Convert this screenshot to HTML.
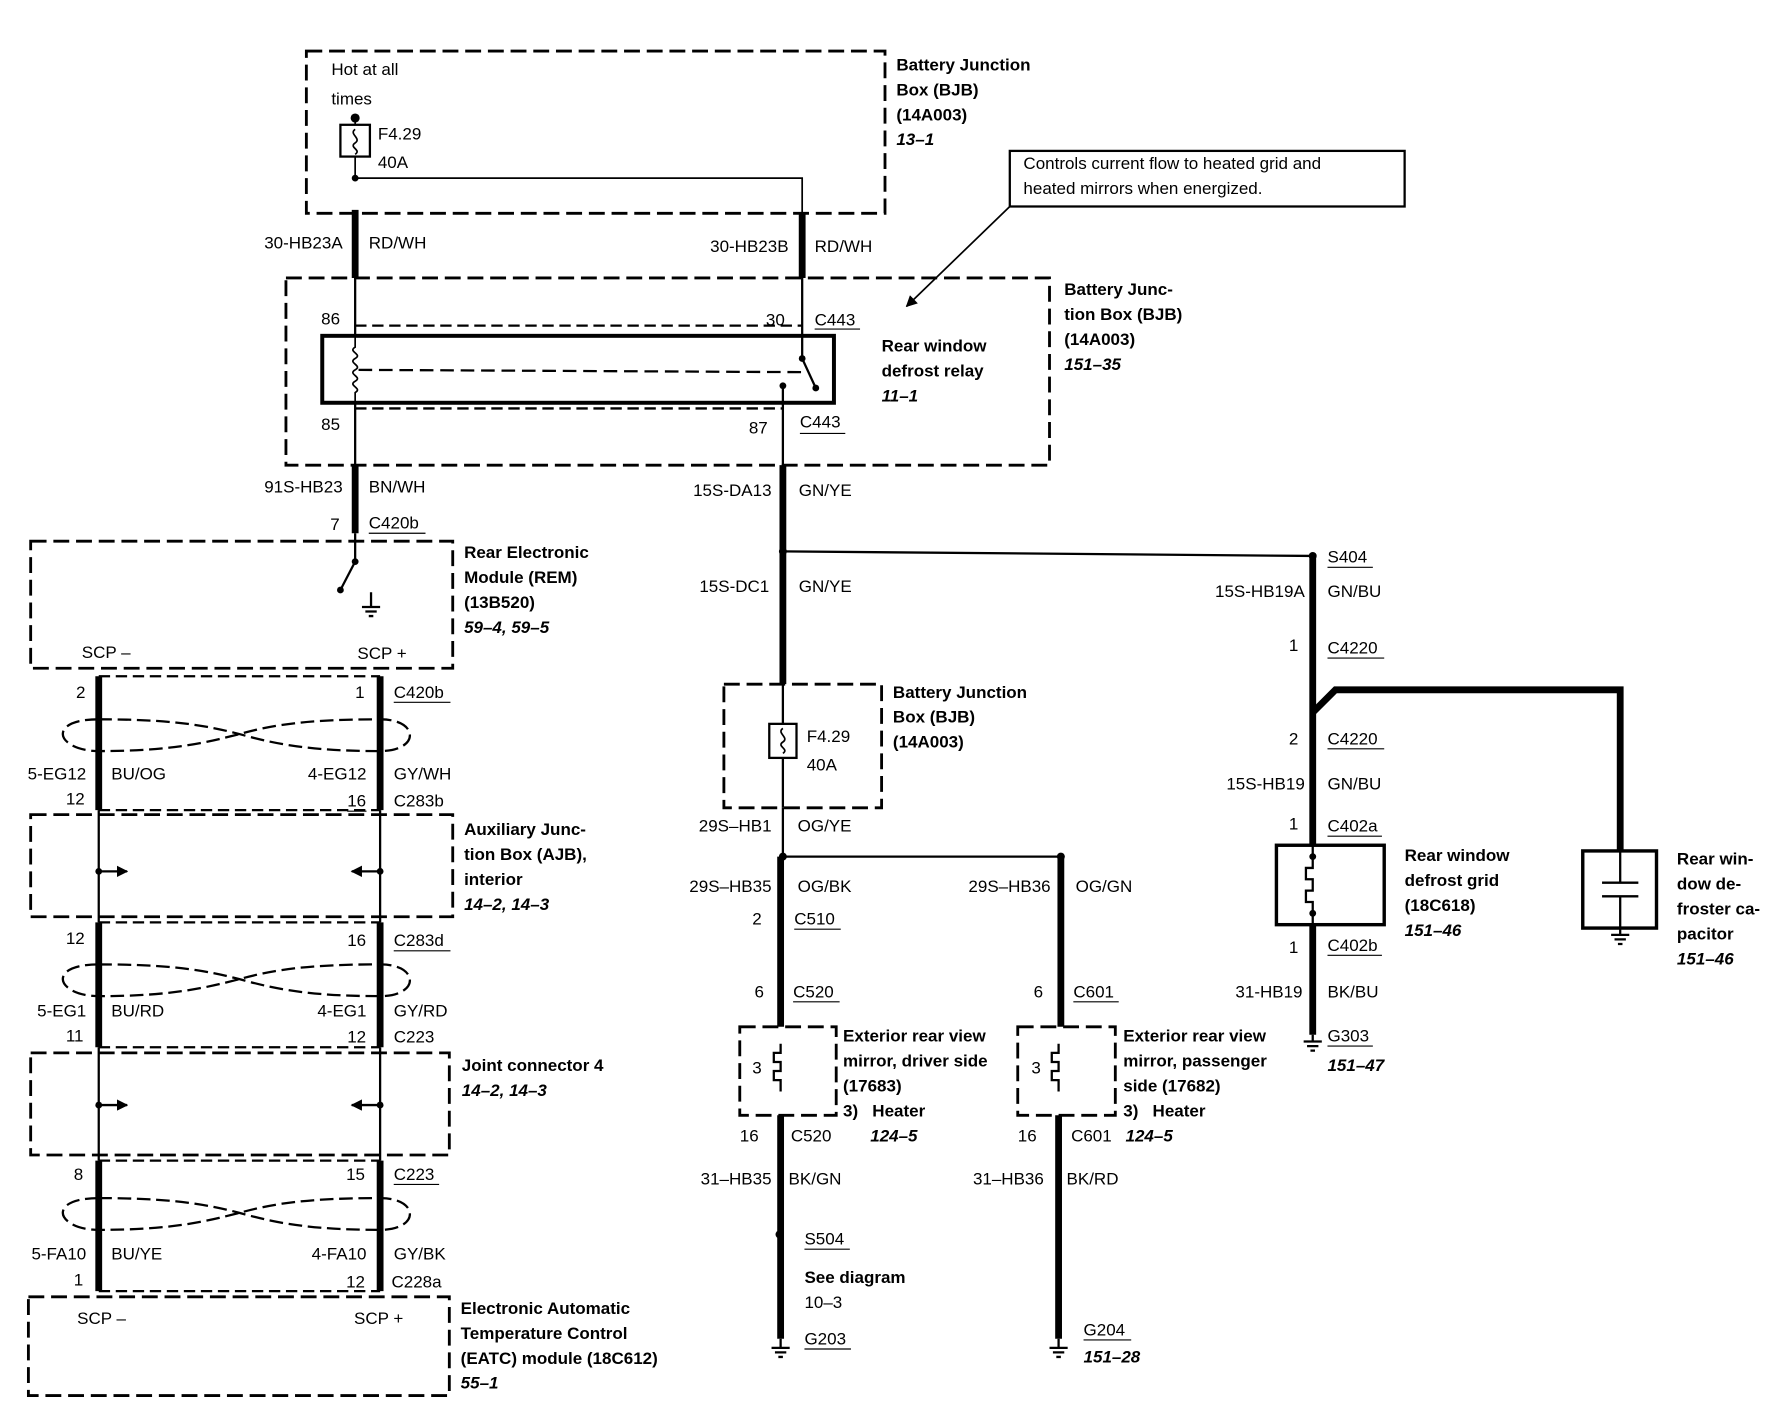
<!DOCTYPE html>
<html><head><meta charset="utf-8"><style>
html,body{margin:0;padding:0;background:#fff;}
svg{display:block;}
text{font-family:"Liberation Sans",sans-serif;font-size:15px;fill:#000;}
.b{font-weight:bold;}
.i{font-weight:bold;font-style:italic;}
.r{text-anchor:end;}
</style></head><body>
<svg width="1770" height="1408" viewBox="0 0 1560 1241" xmlns="http://www.w3.org/2000/svg">
<defs>
<marker id="ah" markerWidth="10" markerHeight="10" refX="9" refY="5" orient="auto" markerUnits="userSpaceOnUse"><path d="M0,0 L10,5 L0,10 z" fill="#000"/></marker>
</defs>
<g fill="none" stroke="#000">
<!-- dashed boxes -->
<g stroke-width="2.5" stroke-dasharray="14,6">
<rect x="270" y="45" width="510" height="143"/>
<rect x="252" y="245" width="673" height="165"/>
<rect x="27" y="477" width="372" height="112"/>
<rect x="638" y="603" width="139" height="109"/>
<rect x="27" y="718" width="372" height="90"/>
<rect x="27" y="928" width="369" height="90"/>
<rect x="25" y="1143" width="371" height="87"/>
<rect x="652" y="905" width="85" height="78"/>
<rect x="897" y="905" width="86" height="78"/>
</g>
<!-- connector dashed shells -->
<g stroke-width="2" stroke-dasharray="10,5">
<line x1="313" y1="287" x2="707" y2="287"/>
<line x1="313" y1="360" x2="690" y2="360"/>
<line x1="87" y1="596" x2="335" y2="596"/>
<line x1="87" y1="714" x2="335" y2="714"/>
<line x1="87" y1="813" x2="335" y2="813"/>
<line x1="87" y1="923" x2="335" y2="923"/>
<line x1="87" y1="1023" x2="335" y2="1023"/>
<line x1="87" y1="1138" x2="335" y2="1138"/>
</g>
<!-- top fuse -->
<rect x="300" y="110" width="26" height="28" stroke-width="2"/>
<path d="M313,104 V110 M313,138 V157 H707 V188" stroke-width="1.5"/>
<path d="M313,114 c-6,4 6,8 0,12 c-6,4 6,6 0,10" stroke-width="1.5"/>
<!-- thick wires -->
<g stroke-width="6">
<line x1="313" y1="185" x2="313" y2="245"/>
<line x1="707" y1="188" x2="707" y2="245"/>
<line x1="313" y1="410" x2="313" y2="470"/>
<line x1="690" y1="410" x2="690" y2="603"/>
<line x1="87" y1="596" x2="87" y2="714"/>
<line x1="335" y1="596" x2="335" y2="714"/>
<line x1="87" y1="813" x2="87" y2="923"/>
<line x1="335" y1="813" x2="335" y2="923"/>
<line x1="87" y1="1023" x2="87" y2="1138"/>
<line x1="335" y1="1023" x2="335" y2="1138"/>
<line x1="688" y1="755" x2="688" y2="905"/>
<line x1="935" y1="755" x2="935" y2="905"/>
<line x1="688" y1="983" x2="688" y2="1180"/>
<line x1="933" y1="983" x2="933" y2="1180"/>
<line x1="1157" y1="490" x2="1157" y2="745"/>
<line x1="1157" y1="815" x2="1157" y2="912"/>
<path d="M1157,628 L1177,608 H1428 V750"/>
</g>
<!-- thin wires -->
<g stroke-width="2">
<line x1="313" y1="245" x2="313" y2="296"/>
<line x1="707" y1="245" x2="707" y2="296"/>
<line x1="313" y1="355" x2="313" y2="410"/>
<line x1="690" y1="340" x2="690" y2="410"/>
<line x1="690" y1="712" x2="690" y2="755"/>
<line x1="690" y1="755" x2="935" y2="755"/>
<line x1="690" y1="486" x2="1157" y2="490"/>
<line x1="87" y1="714" x2="87" y2="813"/>
<line x1="335" y1="714" x2="335" y2="813"/>
<line x1="87" y1="923" x2="87" y2="1023"/>
<line x1="335" y1="923" x2="335" y2="1023"/>
<line x1="690" y1="603" x2="690" y2="638"/>
<line x1="690" y1="668" x2="690" y2="712"/>
<line x1="313" y1="470" x2="313" y2="495"/>
<line x1="313" y1="495" x2="300" y2="520"/>
</g>
<!-- relay -->
<rect x="284" y="296" width="451" height="59" stroke-width="3.5"/>
<path d="M313,296 V306 c-7,4 7,6 0,10 c-7,4 7,6 0,10 c-7,4 7,6 0,10 c-7,4 7,6 0,10 V355" stroke-width="1.5"/>
<line x1="316" y1="326" x2="706" y2="328" stroke-width="2" stroke-dasharray="12,6"/>
<path d="M707,296 V316 L719,342" stroke-width="2"/>
<!-- callout -->
<rect x="890" y="133" width="348" height="49" stroke-width="2"/>
<line x1="890" y1="182" x2="799" y2="270" stroke-width="1.5" marker-end="url(#ah)"/>
<!-- twists -->
<g stroke-width="2" stroke-dasharray="12,5">
<path d="M87,634 C40,634 50,662 87,662 C150,662 180,655 211,647 C240,639 270,634 335,634 C370,634 370,662 335,662 C270,662 240,655 211,647 C180,639 150,634 87,634"/>
<path d="M87,850 C40,850 50,878 87,878 C150,878 180,871 211,863 C240,855 270,850 335,850 C370,850 370,878 335,878 C270,878 240,871 211,863 C180,855 150,850 87,850"/>
<path d="M87,1056 C40,1056 50,1084 87,1084 C150,1084 180,1077 211,1069 C240,1061 270,1056 335,1056 C370,1056 370,1084 335,1084 C270,1084 240,1077 211,1069 C180,1061 150,1056 87,1056"/>
</g>
<!-- AJB & joint arrows -->
<g stroke-width="2">
<line x1="87" y1="768" x2="112" y2="768" marker-end="url(#ah)"/>
<line x1="335" y1="768" x2="310" y2="768" marker-end="url(#ah)"/>
<line x1="87" y1="974" x2="112" y2="974" marker-end="url(#ah)"/>
<line x1="335" y1="974" x2="310" y2="974" marker-end="url(#ah)"/>
</g>
<!-- mid fuse -->
<rect x="678" y="638" width="24" height="30" stroke-width="2"/>
<path d="M690,642 c-6,4 6,8 0,12 c-6,4 6,6 0,10" stroke-width="1.5"/>
<!-- heaters -->
<path d="M688,920 v8 h-6 v8 h6 v8 h-6 v8 h6 v10" stroke-width="2"/>
<path d="M933,920 v8 h-6 v8 h6 v8 h-6 v8 h6 v10" stroke-width="2"/>
<!-- grid -->
<rect x="1125" y="745" width="95" height="70" stroke-width="3"/>
<path d="M1157,745 v20 h-6 v10 h6 v10 h-6 v10 h6 v20" stroke-width="2"/>
<!-- capacitor -->
<rect x="1395" y="750" width="65" height="68" stroke-width="3"/>
<path d="M1428,750 V778 M1412,778 H1444 M1412,790 H1444 M1428,790 V818" stroke-width="2"/>
<!-- grounds -->
<g stroke-width="2">
<path d="M327,522 V535 M319,535 H335 M322,539 H332 M325,543 H329"/>
<path d="M688,1180 V1188 M680,1188 H696 M683,1192 H693 M686,1196 H690"/>
<path d="M933,1180 V1188 M925,1188 H941 M928,1192 H938 M931,1196 H935"/>
<path d="M1157,912 V918 M1149,918 H1165 M1152,922 H1162 M1155,926 H1159"/>
<path d="M1428,818 V824 M1420,824 H1436 M1423,828 H1433 M1426,832 H1430"/>
</g>
<!-- underlines -->
<g stroke-width="1">
<line x1="718" y1="290" x2="758" y2="290"/>
<line x1="705" y1="382" x2="745" y2="382"/>
<line x1="325" y1="470" x2="375" y2="470"/>
<line x1="347" y1="619" x2="397" y2="619"/>
<line x1="347" y1="838" x2="397" y2="838"/>
<line x1="347" y1="1044" x2="387" y2="1044"/>
<line x1="700" y1="819" x2="741" y2="819"/>
<line x1="699" y1="883" x2="740" y2="883"/>
<line x1="946" y1="883" x2="986" y2="883"/>
<line x1="709" y1="1101" x2="749" y2="1101"/>
<line x1="1170" y1="500" x2="1210" y2="500"/>
<line x1="1170" y1="580" x2="1220" y2="580"/>
<line x1="1170" y1="660" x2="1220" y2="660"/>
<line x1="1170" y1="737" x2="1218" y2="737"/>
<line x1="1170" y1="842" x2="1218" y2="842"/>
<line x1="1170" y1="922" x2="1210" y2="922"/>
<line x1="955" y1="1181" x2="997" y2="1181"/>
<line x1="709" y1="1189" x2="750" y2="1189"/>
<line x1="306" y1="715" x2="323" y2="715"/>
</g>
</g>
<!-- dots -->
<g fill="#000">
<circle cx="313" cy="104" r="4"/><circle cx="313" cy="157" r="3"/>
<circle cx="707" cy="316" r="3"/><circle cx="719" cy="342" r="3"/><circle cx="690" cy="340" r="3"/>
<circle cx="313" cy="495" r="3"/><circle cx="300" cy="520" r="3"/>
<circle cx="690" cy="486" r="3.5"/><circle cx="1157" cy="490" r="3.5"/>
<circle cx="690" cy="755" r="3.5"/><circle cx="935" cy="755" r="3.5"/>
<circle cx="87" cy="768" r="3"/><circle cx="335" cy="768" r="3"/>
<circle cx="87" cy="974" r="3"/><circle cx="335" cy="974" r="3"/>
<circle cx="687" cy="1088" r="3.5"/>
<circle cx="1157" cy="755" r="3"/><circle cx="1157" cy="805" r="3"/>
</g>
<!-- texts -->
<text x="292" y="66">Hot at all</text><text x="292" y="92">times</text>
<text x="333" y="123">F4.29</text><text x="333" y="148">40A</text>
<text class="b" x="790" y="62">Battery Junction</text><text class="b" x="790" y="84">Box (BJB)</text><text class="b" x="790" y="106">(14A003)</text><text class="i" x="790" y="128">13–1</text>
<text x="902" y="149">Controls current flow to heated grid and</text><text x="902" y="171">heated mirrors when energized.</text>
<text class="r" x="302" y="219">30-HB23A</text><text x="325" y="219">RD/WH</text>
<text class="r" x="695" y="222">30-HB23B</text><text x="718" y="222">RD/WH</text>
<text x="283" y="286">86</text><text x="675" y="287">30</text><text x="718" y="287">C443</text>
<text x="283" y="379">85</text><text x="660" y="382">87</text><text x="705" y="377">C443</text>
<text class="b" x="777" y="310">Rear window</text><text class="b" x="777" y="332">defrost relay</text><text class="i" x="777" y="354">11–1</text>
<text class="b" x="938" y="260">Battery Junc-</text><text class="b" x="938" y="282">tion Box (BJB)</text><text class="b" x="938" y="304">(14A003)</text><text class="i" x="938" y="326">151–35</text>
<text class="r" x="302" y="434">91S-HB23</text><text x="325" y="434">BN/WH</text>
<text x="291" y="467">7</text><text x="325" y="466">C420b</text>
<text class="b" x="409" y="492">Rear Electronic</text><text class="b" x="409" y="514">Module (REM)</text><text class="b" x="409" y="536">(13B520)</text><text class="i" x="409" y="558">59–4, 59–5</text>
<text x="72" y="580">SCP –</text><text x="315" y="581">SCP +</text>
<text class="r" x="680" y="437">15S-DA13</text><text x="704" y="437">GN/YE</text>
<text class="r" x="678" y="522">15S-DC1</text><text x="704" y="522">GN/YE</text>
<text class="b" x="787" y="615">Battery Junction</text><text class="b" x="787" y="637">Box (BJB)</text><text class="b" x="787" y="659">(14A003)</text>
<text x="711" y="654">F4.29</text><text x="711" y="679">40A</text>
<text class="r" x="680" y="733">29S–HB1</text><text x="703" y="733">OG/YE</text>
<text class="r" x="680" y="786">29S–HB35</text><text x="703" y="786">OG/BK</text>
<text class="r" x="926" y="786">29S–HB36</text><text x="948" y="786">OG/GN</text>
<text x="663" y="815">2</text><text x="700" y="815">C510</text>
<text x="665" y="879">6</text><text x="699" y="879">C520</text>
<text x="911" y="879">6</text><text x="946" y="879">C601</text>
<text x="663" y="946">3</text><text x="909" y="946">3</text>
<text class="b" x="743" y="918">Exterior rear view</text><text class="b" x="743" y="940">mirror, driver side</text><text class="b" x="743" y="962">(17683)</text><text class="b" x="743" y="984">3)&#160;&#160;&#160;Heater</text>
<text class="b" x="990" y="918">Exterior rear view</text><text class="b" x="990" y="940">mirror, passenger</text><text class="b" x="990" y="962">side (17682)</text><text class="b" x="990" y="984">3)&#160;&#160;&#160;Heater</text>
<text x="652" y="1006">16</text><text x="697" y="1006">C520</text><text class="i" x="767" y="1006">124–5</text>
<text x="897" y="1006">16</text><text x="944" y="1006">C601</text><text class="i" x="992" y="1006">124–5</text>
<text class="r" x="680" y="1044">31–HB35</text><text x="695" y="1044">BK/GN</text>
<text class="r" x="920" y="1044">31–HB36</text><text x="940" y="1044">BK/RD</text>
<text x="709" y="1097">S504</text><text class="b" x="709" y="1131">See diagram</text><text x="709" y="1153">10–3</text><text x="709" y="1185">G203</text>
<text x="955" y="1177">G204</text><text class="i" x="955" y="1201">151–28</text>
<text x="1170" y="496">S404</text>
<text class="r" x="1150" y="526">15S-HB19A</text><text x="1170" y="526">GN/BU</text>
<text x="1136" y="574">1</text><text x="1170" y="576">C4220</text>
<text x="1136" y="656">2</text><text x="1170" y="656">C4220</text>
<text class="r" x="1150" y="696">15S-HB19</text><text x="1170" y="696">GN/BU</text>
<text x="1136" y="731">1</text><text x="1170" y="733">C402a</text>
<text class="b" x="1238" y="759">Rear window</text><text class="b" x="1238" y="781">defrost grid</text><text class="b" x="1238" y="803">(18C618)</text><text class="i" x="1238" y="825">151–46</text>
<text x="1136" y="840">1</text><text x="1170" y="838">C402b</text>
<text class="r" x="1148" y="879">31-HB19</text><text x="1170" y="879">BK/BU</text>
<text x="1170" y="918">G303</text><text class="i" x="1170" y="944">151–47</text>
<text class="b" x="1478" y="762">Rear win-</text><text class="b" x="1478" y="784">dow de-</text><text class="b" x="1478" y="806">froster ca-</text><text class="b" x="1478" y="828">pacitor</text><text class="i" x="1478" y="850">151–46</text>
<text x="67" y="615">2</text><text x="313" y="615">1</text><text x="347" y="615">C420b</text>
<text class="r" x="76" y="687">5-EG12</text><text x="98" y="687">BU/OG</text><text class="r" x="323" y="687">4-EG12</text><text x="347" y="687">GY/WH</text>
<text x="58" y="709">12</text><text x="306" y="711">16</text><text x="347" y="711">C283b</text>
<text class="b" x="409" y="736">Auxiliary Junc-</text><text class="b" x="409" y="758">tion Box (AJB),</text><text class="b" x="409" y="780">interior</text><text class="i" x="409" y="802">14–2, 14–3</text>
<text x="58" y="832">12</text><text x="306" y="834">16</text><text x="347" y="834">C283d</text>
<text class="r" x="76" y="896">5-EG1</text><text x="98" y="896">BU/RD</text><text class="r" x="323" y="896">4-EG1</text><text x="347" y="896">GY/RD</text>
<text x="58" y="918">11</text><text x="306" y="919">12</text><text x="347" y="919">C223</text>
<text class="b" x="407" y="944">Joint connector 4</text><text class="i" x="407" y="966">14–2, 14–3</text>
<text x="65" y="1040">8</text><text x="305" y="1040">15</text><text x="347" y="1040">C223</text>
<text class="r" x="76" y="1110">5-FA10</text><text x="98" y="1110">BU/YE</text><text class="r" x="323" y="1110">4-FA10</text><text x="347" y="1110">GY/BK</text>
<text x="65" y="1133">1</text><text x="305" y="1135">12</text><text x="345" y="1135">C228a</text>
<text x="68" y="1167">SCP –</text><text x="312" y="1167">SCP +</text>
<text class="b" x="406" y="1158">Electronic Automatic</text><text class="b" x="406" y="1180">Temperature Control</text><text class="b" x="406" y="1202">(EATC) module (18C612)</text><text class="i" x="406" y="1224">55–1</text>
</svg>
</body></html>
